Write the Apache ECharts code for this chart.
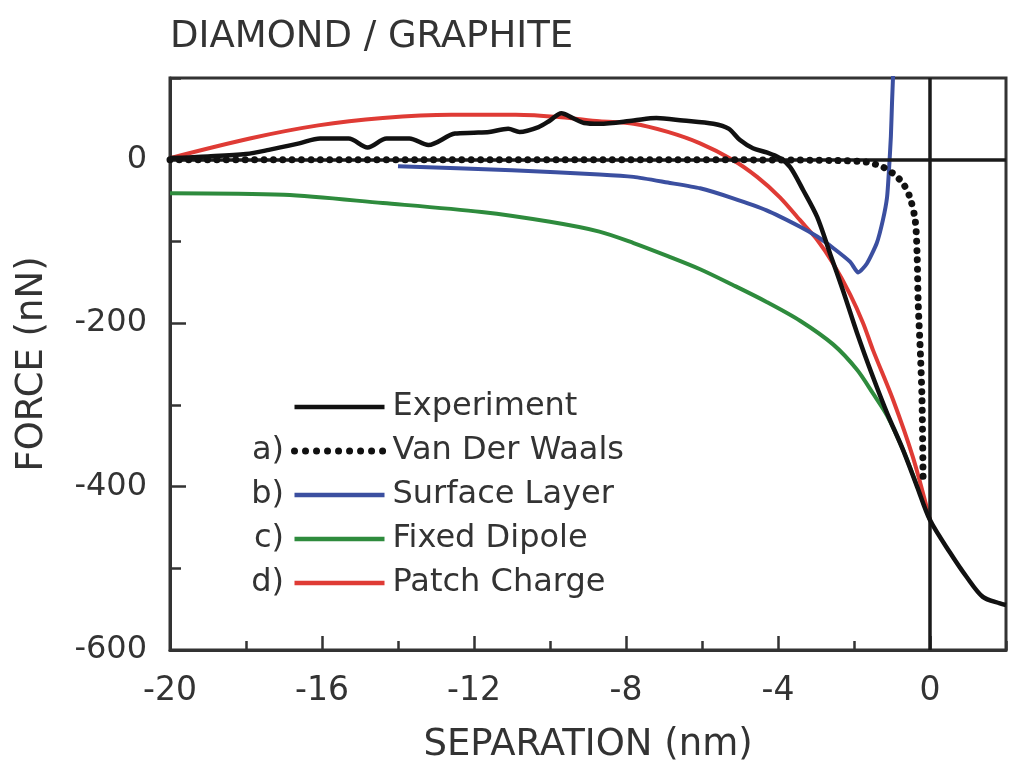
<!DOCTYPE html>
<html>
<head>
<meta charset="utf-8">
<script src="https://cdn.jsdelivr.net/npm/echarts@6/dist/echarts.min.js"></script>
<style>
html,body{margin:0;padding:0;background:#fff;}
#chart{width:1024px;height:784px;}
</style>
</head>
<body>
<div id="chart"></div>
<script>
// ---- data ----
const seriesNames = ['Experiment', 'Van Der Waals', 'Surface Layer', 'Fixed Dipole', 'Patch Charge'];
const legendPrefixes = ['', 'a)', 'b)', 'c)', 'd)'];

const experimentX = [-20, -19, -18, -17.4, -16.6, -16.05, -15.3, -14.8, -14.3, -13.7, -13.2, -12.5, -12.0, -11.6, -11.1, -10.8, -10.3, -10.0, -9.7, -9.4, -9.1, -8.7, -7.8, -7.2, -6.5, -5.7, -5.3, -5.0, -4.66, -4.3, -3.95, -3.68, -3.34, -2.97, -2.63, -2.29, -1.92, -1.5, -1.13, -0.71, -0.34, 0, 0.53, 0.97, 1.39, 1.84, 2.0];
const experimentY = [2, 4, 7, 12, 20, 26, 26, 15, 26, 26, 18, 32, 33, 34, 38, 34, 40, 48, 57, 51, 45, 44, 48, 51, 48, 44, 38, 24, 14, 9, 2, -9, -37, -70, -115, -160, -212, -266, -310, -355, -400, -441, -481, -511, -535, -543, -545];

const vdwX = [-20, -8, -4, -2.5, -1.66, -1.24, -0.97, -0.71, -0.53, -0.39, -0.34, -0.31, -0.25, -0.21, -0.18];
const vdwY = [0, 0, -0.3, -1, -3, -9, -17, -29, -46, -74, -115, -176, -240, -294, -398];

const surfaceX = [-14.0, -11, -8.7, -7.8, -6.9, -6.05, -5.2, -4.3, -3.42, -2.97, -2.55, -2.1, -1.89, -1.66, -1.4, -1.24, -1.13, -1.08, -1.03, -1.0, -0.97];
const surfaceY = [-8, -13, -18, -21, -28, -35, -47, -62, -82, -94, -108, -125, -138, -127, -102, -74, -46, -13, 28, 69, 105];

const dipoleX = [-20, -17, -14.4, -11.8, -10.0, -8.7, -7.8, -6.9, -6.05, -5.2, -4.3, -3.42, -2.55, -1.92, -1.5, -1.13, -0.71, -0.34, 0];
const dipoleY = [-41, -43, -53, -64, -76, -88, -102, -118, -134, -153, -174, -197, -226, -257, -286, -313, -355, -399, -441];

const patchX = [-20, -17.9, -16.1, -14.4, -12.6, -10.9, -9.7, -8.7, -7.8, -6.9, -6.05, -5.2, -4.55, -3.95, -3.42, -2.97, -2.55, -2.1, -1.76, -1.5, -0.97, -0.45, 0];
const patchY = [2, 26, 42, 51, 55, 55, 52, 47, 44, 34, 20, 0, -21, -46, -74, -98, -127, -165, -200, -233, -294, -364, -441];

const xTicksMajor = 4, xTicksMinor = 2;
const yTicksMajor = 200, yTicksMinor = 100;

// ---- helpers ----
function pairs(xs, ys) { return xs.map((x, i) => [x, ys[i]]); }

const FONT = "'DejaVu Sans', 'Liberation Sans', sans-serif";
const AX = '#333';
const C_EXP = '#111', C_VDW = '#111', C_SURF = '#3b4fa0', C_DIP = '#2e8b3d', C_PATCH = '#df3b35';

const chart = echarts.init(document.getElementById('chart'));

const option = {
  backgroundColor: '#fff',
  animation: false,
  title: {
    text: 'DIAMOND / GRAPHITE',
    left: 170, top: 19, padding: 0,
    textStyle: { fontFamily: FONT, fontSize: 37, fontWeight: 'normal', color: AX }
  },
  grid: {
    left: 170, right: 18, top: 78, bottom: 134,
    show: true, borderColor: AX, borderWidth: 3, backgroundColor: 'transparent'
  },
  legend: {
    orient: 'vertical',
    left: 291, top: 391, padding: 0,
    itemWidth: 90, itemHeight: 14, itemGap: 12,
    data: [
      { name: seriesNames[0], lineStyle: { width: 4.5, color: C_EXP } },
      { name: seriesNames[1], lineStyle: { width: 7, color: C_VDW, type: [0.01, 11], cap: 'round' } },
      { name: seriesNames[2], lineStyle: { width: 4.5, color: C_SURF } },
      { name: seriesNames[3], lineStyle: { width: 4.5, color: C_DIP } },
      { name: seriesNames[4], lineStyle: { width: 4.5, color: C_PATCH } }
    ],
    itemStyle: { opacity: 0 },
    textStyle: { fontFamily: FONT, fontSize: 32, lineHeight: 32, color: AX, padding: [0, 0, 0, 3] }
  },
  graphic: legendPrefixes.map((p, i) => ({
    type: 'text',
    x: 284, y: 407 + i * 44,
    style: { text: p, font: "32px 'DejaVu Sans'", fill: AX, align: 'right', verticalAlign: 'middle', textAlign: 'right', textVerticalAlign: 'middle' },
    silent: true
  })),
  xAxis: [
    {
      type: 'value', min: -20, max: 2, interval: xTicksMajor, position: 'bottom',
      name: 'SEPARATION (nm)', nameLocation: 'middle', nameGap: 77,
      nameTextStyle: { fontFamily: FONT, fontSize: 37, color: AX },
      axisLine: { show: true, onZero: false, lineStyle: { color: AX, width: 3 } },
      axisTick: { show: true, inside: true, length: 14, lineStyle: { color: AX, width: 2.5 } },
      axisLabel: { margin: 25, fontFamily: FONT, fontSize: 33, color: AX, showMaxLabel: false },
      splitLine: { show: false }
    },
    {
      type: 'value', min: -20, max: 2, interval: xTicksMinor, position: 'bottom', offset: 0,
      axisLine: { show: false, onZero: false },
      axisTick: { show: true, inside: true, length: 9, lineStyle: { color: AX, width: 2.5 } },
      axisLabel: { show: false },
      splitLine: { show: false }
    }
  ],
  yAxis: [
    {
      type: 'value', min: -600, max: 100, interval: yTicksMajor, position: 'left',
      name: 'FORCE (nN)', nameLocation: 'middle', nameGap: 119,
      nameTextStyle: { fontFamily: FONT, fontSize: 37, color: AX },
      axisLine: { show: true, onZero: false, lineStyle: { color: AX, width: 3 } },
      axisTick: { show: true, inside: true, length: 16, lineStyle: { color: AX, width: 2.5 } },
      axisLabel: { margin: 23, fontFamily: FONT, fontSize: 32, color: AX, showMaxLabel: false },
      splitLine: { show: false }
    },
    {
      type: 'value', min: -600, max: 100, interval: yTicksMinor, position: 'left', offset: 0,
      axisLine: { show: false, onZero: false },
      axisTick: { show: true, inside: true, length: 11, lineStyle: { color: AX, width: 2.5 } },
      axisLabel: { show: false },
      splitLine: { show: false }
    }
  ],
  series: [
    {
      name: 'Experiment', type: 'line', data: pairs(experimentX, experimentY),
      xAxisIndex: 0, yAxisIndex: 0, showSymbol: false, symbol: 'none', smooth: 0.3, z: 5,
      color: C_EXP, lineStyle: { color: C_EXP, width: 4.5 }
    },
    {
      name: 'Van Der Waals', type: 'line', data: pairs(vdwX, vdwY),
      xAxisIndex: 0, yAxisIndex: 0, showSymbol: false, symbol: 'none', smooth: 0.3, z: 6,
      color: C_VDW, lineStyle: { color: C_VDW, width: 7, type: [0.01, 9.4], cap: 'round' }
    },
    {
      name: 'Surface Layer', type: 'line', data: pairs(surfaceX, surfaceY),
      xAxisIndex: 0, yAxisIndex: 0, showSymbol: false, symbol: 'none', smooth: 0.2, z: 4,
      color: C_SURF, lineStyle: { color: C_SURF, width: 4 }
    },
    {
      name: 'Fixed Dipole', type: 'line', data: pairs(dipoleX, dipoleY),
      xAxisIndex: 0, yAxisIndex: 0, showSymbol: false, symbol: 'none', smooth: 0.3, z: 2,
      color: C_DIP, lineStyle: { color: C_DIP, width: 4 },
      markLine: {
        silent: true, symbol: 'none', label: { show: false },
        lineStyle: { color: '#1a1a1a', width: 3.5, type: 'solid' },
        data: [{ yAxis: 0 }, { xAxis: 0 }]
      }
    },
    {
      name: 'Patch Charge', type: 'line', data: pairs(patchX, patchY),
      xAxisIndex: 0, yAxisIndex: 0, showSymbol: false, symbol: 'none', smooth: 0.3, z: 3,
      color: C_PATCH, lineStyle: { color: C_PATCH, width: 4 }
    }
  ]
};
chart.setOption(option);
</script>
</body>
</html>
